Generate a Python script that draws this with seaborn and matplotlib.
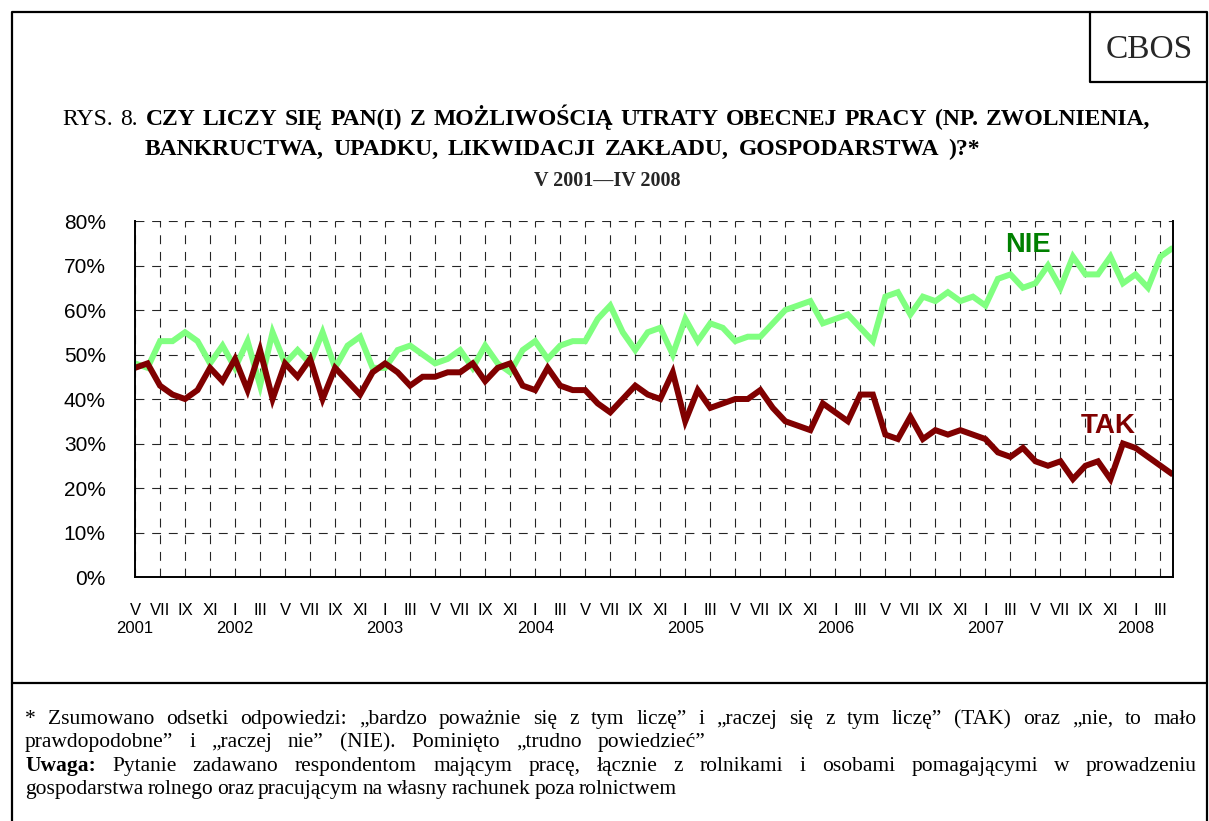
import numpy as np
import pandas as pd
import matplotlib
matplotlib.use("Agg")
import matplotlib.pyplot as plt
import seaborn as sns
from matplotlib.lines import Line2D
from matplotlib.ticker import FixedLocator, PercentFormatter

# ---------------- data (monthly, V 2001 - IV 2008) ----------------
tak = [47, 48, 43, 41, 40, 42, 47, 44, 49, 42, 51, 40, 48, 45, 49, 40, 47, 44, 41, 46, 48,
       46, 43, 45, 45, 46, 46, 48, 44, 47, 48, 43, 42, 47, 43, 42, 42, 39, 37, 40, 43, 41,
       40, 46, 35, 42, 38, 39, 40, 40, 42, 38, 35, 34, 33, 39, 37, 35, 41, 41, 32, 31, 36,
       31, 33, 32, 33, 32, 31, 28, 27, 29, 26, 25, 26, 22, 25, 26, 22, 30, 29, 27, 25, 23]
nie = [48, 47, 53, 53, 55, 53, 48, 52, 47, 53, 43, 55, 48, 51, 48, 55, 47, 52, 54, 47, 47,
       51, 52, 50, 48, 49, 51, 47, 52, 48, 46, 51, 53, 49, 52, 53, 53, 58, 61, 55, 51, 55,
       56, 50, 58, 53, 57, 56, 53, 54, 54, 57, 60, 61, 62, 57, 58, 59, 56, 53, 63, 64, 59,
       63, 62, 64, 62, 63, 61, 67, 68, 65, 66, 70, 65, 72, 68, 68, 72, 66, 68, 65, 72, 74]
month_labels = ["V", "VII", "IX", "XI", "I", "III"] * 7          # every second month
year_labels = ["2001", "2002", "2003", "2004", "2005", "2006", "2007", "2008"]
y_ticks = [0, 10, 20, 30, 40, 50, 60, 70, 80]

series_names = ["NIE", "TAK"]
colors = {"NIE": "#80FF80", "TAK": "#800000"}
label_colors = {"NIE": "#008000", "TAK": "#800000"}

title_prefix = "RYS. 8."
title_line1 = "CZY LICZY SIĘ PAN(I) Z MOŻLIWOŚCIĄ UTRATY OBECNEJ PRACY (NP. ZWOLNIENIA,"
title_line2 = "BANKRUCTWA, UPADKU, LIKWIDACJI ZAKŁADU, GOSPODARSTWA )?*"
title_line3 = "V 2001—IV 2008"
note1 = "* Zsumowano odsetki odpowiedzi: „bardzo poważnie się z tym liczę” i „raczej się z tym liczę” (TAK) oraz „nie, to mało"
note2 = "prawdopodobne” i „raczej nie” (NIE). Pominięto „trudno powiedzieć”"
note3_bold = "Uwaga:"
note3 = "Pytanie zadawano respondentom mającym pracę, łącznie z rolnikami i osobami pomagającymi w prowadzeniu"
note4 = "gospodarstwa rolnego oraz pracującym na własny rachunek poza rolnictwem"

# ---------------- figure ----------------
sns.set_theme(style="white")
plt.rcParams["font.family"] = ["Liberation Sans", "DejaVu Sans"]
SERIF = ["Liberation Serif", "DejaVu Serif"]

W, H = 1209, 821
fig = plt.figure(figsize=(W / 100, H / 100), dpi=100)
fig.patch.set_facecolor("white")
renderer = fig.canvas.get_renderer()


def fx(px):
    return px / W


def fy(py):
    return 1 - py / H


ax = fig.add_axes([fx(135), fy(577), (1173 - 135) / W, (577 - 221) / H])
ax.set_facecolor("white")

n = len(tak)
df = pd.DataFrame({
    "idx": list(range(n)) * 2,
    "value": nie + tak,
    "series": ["NIE"] * n + ["TAK"] * n,
})
sns.lineplot(data=df, x="idx", y="value", hue="series", hue_order=series_names,
             palette=colors, linewidth=4.3, legend=False, ax=ax)
for ln in ax.get_lines():
    ln.set_solid_joinstyle("miter")
    ln.set_solid_capstyle("butt")

ax.set_xlim(0, n - 1)
ax.set_ylim(y_ticks[0], y_ticks[-1])
ax.set_xlabel("")
ax.set_ylabel("")

# x ticks: months (every second) + years under January / first month
major_pos = list(range(0, n, 2))[:len(month_labels)]
ax.xaxis.set_major_locator(FixedLocator(major_pos))
ax.xaxis.set_minor_locator(FixedLocator(list(range(1, n, 2))))
ax.set_xticklabels(month_labels)
ax.tick_params(axis="x", which="major", direction="out", length=15, width=1,
               color="black", pad=4, labelsize=12, labelcolor="black")
ax.tick_params(axis="x", which="minor", direction="out", length=7, width=1,
               color="black")

year_pos = [p for k, p in enumerate(major_pos) if k == 0 or month_labels[k] == "I"]
sec = ax.secondary_xaxis("bottom")
sec.xaxis.set_major_locator(FixedLocator(year_pos))
sec.set_xticklabels(year_labels)
sec.tick_params(axis="x", length=0, pad=32, labelsize=12, labelcolor="black")
sec.spines["bottom"].set_visible(False)

# y ticks
ax.yaxis.set_major_locator(FixedLocator(y_ticks))
ax.yaxis.set_major_formatter(PercentFormatter(decimals=0))
ax.tick_params(axis="y", which="major", direction="out", length=11, width=1,
               color="black", pad=10, labelsize=15, labelcolor="black")

ax.grid(True, which="major", axis="both", color="black",
        linestyle=(0, (8, 7)), linewidth=0.8, alpha=0.85)
ax.set_axisbelow(True)

for side in ["left", "bottom", "right"]:
    ax.spines[side].set_visible(True)
    ax.spines[side].set_color("black")
    ax.spines[side].set_linewidth(1.4)
ax.spines["top"].set_visible(False)

# series labels
ax.text(71.4, 74.5, "NIE", color=label_colors["NIE"], fontsize=19.5,
        fontweight="bold", ha="center", va="center")
ax.text(77.8, 33.9, "TAK", color=label_colors["TAK"], fontsize=20,
        fontweight="bold", ha="center", va="center")


# ---------------- texts ----------------
def text_width(s, size, weight):
    t = fig.text(0, 0, s, fontsize=size, fontweight=weight, family=SERIF)
    w = t.get_window_extent(renderer).width
    t.remove()
    return w


def place_line(words, x0, y, size, x1=None):
    widths = [text_width(w, size, wt) for w, wt in words]
    if x1 is not None and len(words) > 1:
        gap = (x1 - x0 - sum(widths)) / (len(words) - 1)
    else:
        gap = text_width("x x", size, "normal") - text_width("xx", size, "normal")
    x = x0
    for (w, wt), wd in zip(words, widths):
        fig.text(fx(x), fy(y), w, fontsize=size, fontweight=wt, family=SERIF,
                 ha="left", va="baseline", color="black")
        x += wd + gap


TS = 17
place_line([(w, "normal") for w in title_prefix.split()] +
           [(w, "bold") for w in title_line1.split()], 62, 125, TS, x1=1150)
place_line([(w, "bold") for w in title_line2.split()], 145, 155, TS, x1=980)
fig.text(fx(607), fy(186), title_line3, fontsize=14.5, fontweight="bold",
         family=SERIF, ha="center", va="baseline")

NS = 15.5
place_line([(w, "normal") for w in note1.split()], 25, 724, NS, x1=1197)
place_line([(w, "normal") for w in note2.split()], 25, 747, NS, x1=705)
place_line([(note3_bold, "bold")] + [(w, "normal") for w in note3.split()],
           25, 771, NS, x1=1197)
place_line([(w, "normal") for w in note4.split()], 25, 794, NS, x1=677)

fig.text(fx(1149), fy(58), "CBOS", fontsize=24, family=SERIF,
         ha="center", va="baseline")

# ---------------- frames ----------------
lw = 1.6
fig.add_artist(Line2D([fx(12), fx(12), fx(1207), fx(1207)],
                      [fy(821), fy(12), fy(12), fy(821)],
                      transform=fig.transFigure, color="black", linewidth=lw))
fig.add_artist(Line2D([fx(12), fx(1207)], [fy(683), fy(683)],
                      transform=fig.transFigure, color="black", linewidth=lw))
fig.add_artist(Line2D([fx(1090), fx(1090), fx(1207)], [fy(12), fy(82), fy(82)],
                      transform=fig.transFigure, color="black", linewidth=lw))

fig.savefig("out.png", dpi=100, facecolor="white")
